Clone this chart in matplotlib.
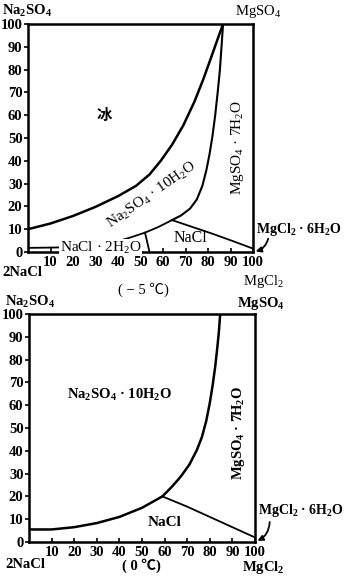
import matplotlib
matplotlib.use('Agg')
import matplotlib.pyplot as plt

plt.rcParams['font.family'] = ['Liberation Serif', 'Noto Sans CJK SC', 'DejaVu Sans']
plt.rcParams['mathtext.fontset'] = 'custom'
plt.rcParams['mathtext.rm'] = 'Liberation Serif'
plt.rcParams['mathtext.bf'] = 'Liberation Serif:bold'
plt.rcParams['mathtext.default'] = 'regular'

# -5 C diagram
ice_x = [0, 10, 20, 30, 40, 48, 54, 59, 64, 69, 74, 78, 82, 84.5, 86.7]
ice_y = [10, 12.5, 15.8, 19.8, 24.5, 29, 34, 40, 47, 55.5, 66, 76, 87, 94, 100]
hep_x_top = [64, 68, 72, 75, 77.5, 79.3, 80.7, 82, 83.2, 84.3, 85.3, 86, 86.7]
hep_y_top = [14, 16, 19, 23, 29, 36, 43, 51, 60, 70, 80, 90, 100]
dihyd_x = [37, 40, 45, 52, 58, 64]
dihyd_y = [2, 4.8, 6.2, 8.5, 11, 14]
dihyd_sep_x = [52, 54]
dihyd_sep_y = [8.5, 0]
dihyd_left_x = [0, 14]
dihyd_left_y = [1.8, 2]
nacl_x_top = [64, 73, 82, 91, 100]
nacl_y_top = [14, 11, 8, 4.8, 1.5]

# 0 C diagram
dec_x = [0, 10, 20, 30, 40, 50, 59, 63, 67, 71, 74.3, 76.5, 78.4, 80, 81.3, 82.4, 83.3, 84, 84.6]
dec_y = [5.5, 5.5, 6.5, 8.3, 11, 15, 20, 24, 28.5, 34, 40.4, 46, 53, 61, 69, 77, 85, 92, 100]
nacl_x_bot = [59, 70, 80, 90, 100]
nacl_y_bot = [20, 15.5, 11, 6.5, 2]

y_ticks = list(range(0, 101, 10))
x_ticks = list(range(10, 101, 10))

W, H = 352, 576
fig = plt.figure(figsize=(W / 100, H / 100), dpi=100)


def box(px_left, px_top, px_right, px_bottom):
    return [px_left / W, 1 - px_bottom / H, (px_right - px_left) / W, (px_bottom - px_top) / H]


def setup(ax):
    ax.set_xlim(0, 100)
    ax.set_ylim(0, 100)
    for s in ax.spines.values():
        s.set_linewidth(1.8)
    ax.set_yticks(y_ticks)
    ax.set_xticks(x_ticks)
    ax.tick_params(axis='y', direction='out', length=3, width=1.2, pad=1, labelsize=10.5)
    ax.tick_params(axis='x', direction='in', length=3, width=1.2, pad=3, labelsize=10.5)
    for lab in ax.get_yticklabels() + ax.get_xticklabels():
        lab.set_fontweight('bold')


def mgcl_label(ax, y_text, arrow_from):
    ax.text(101.5, y_text, r'MgCl$_2$ · 6H$_2$O', fontsize=10, fontweight='bold',
            ha='left', va='center', clip_on=False)
    ax.annotate('', xy=(100, 0), xytext=arrow_from,
                arrowprops=dict(arrowstyle='-|>', color='k', lw=1.3,
                                connectionstyle='arc3,rad=-0.35', mutation_scale=8),
                annotation_clip=False)


lw = 1.8

# ---- top panel (-5 C)
ax1 = fig.add_axes(box(28, 24, 253, 252))
setup(ax1)
ax1.plot(ice_x, ice_y, color='k', lw=lw)
ax1.plot(hep_x_top, hep_y_top, color='k', lw=1.5)
ax1.plot(dihyd_x, dihyd_y, color='k', lw=1.3)
ax1.plot(dihyd_sep_x, dihyd_sep_y, color='k', lw=1.3)
ax1.plot(dihyd_left_x, dihyd_left_y, color='k', lw=1.3)
ax1.plot(nacl_x_top, nacl_y_top, color='k', lw=1.3)

ax1.text(34, 60, '冰', fontsize=11, fontweight='bold', ha='center', va='center',
         family=['Noto Sans CJK SC'])
ax1.text(55, 25, r'Na$_2$SO$_4$ · 10H$_2$O', fontsize=11, rotation=35,
         ha='center', va='center')
ax1.text(93, 46, r'MgSO$_4$ · 7H$_2$O', fontsize=11, rotation=90,
         ha='center', va='center')
ax1.text(14, 1.9, r'NaCl · 2H$_2$O', fontsize=11, ha='left', va='center', zorder=5,
         bbox=dict(boxstyle='square,pad=0.05', fc='white', ec='none'))
ax1.text(72, 6, 'NaCl', fontsize=11.5, ha='center', va='center')
mgcl_label(ax1, 10, (107, 7))

fig.text(2 / W, 1 - 11 / H, r'Na$_2$SO$_4$', fontsize=10.5, fontweight='bold', va='center')
fig.text(235 / W, 1 - 11 / H, r'MgSO$_4$', fontsize=10.5, va='center')
fig.text(2 / W, 1 - 272 / H, '2NaCl', fontsize=10.5, fontweight='bold', va='center')
fig.text(263 / W, 1 - 281 / H, r'MgCl$_2$', fontsize=10.5, ha='center', va='center')
fig.text(143 / W, 1 - 290 / H, '( − 5 ℃)', fontsize=10.5, ha='center', va='center')

# ---- bottom panel (0 C)
ax2 = fig.add_axes(box(29, 314, 255, 542))
setup(ax2)
ax2.plot(dec_x, dec_y, color='k', lw=lw)
ax2.plot(nacl_x_bot, nacl_y_bot, color='k', lw=1.3)

ax2.text(40, 64.5, r'Na$_2$SO$_4$ · 10H$_2$O', fontsize=10.5, fontweight='bold',
         ha='center', va='center')
ax2.text(92.5, 48, r'MgSO$_4$ · 7H$_2$O', fontsize=10.5, fontweight='bold', rotation=90,
         ha='center', va='center')
ax2.text(60, 8.5, 'NaCl', fontsize=11, fontweight='bold', ha='center', va='center')
mgcl_label(ax2, 14, (106.5, 10))

fig.text(5 / W, 1 - 302 / H, r'Na$_2$SO$_4$', fontsize=10.5, fontweight='bold', va='center')
fig.text(237 / W, 1 - 303 / H, r'MgSO$_4$', fontsize=10.5, fontweight='bold', va='center')
fig.text(5 / W, 1 - 565 / H, '2NaCl', fontsize=10.5, fontweight='bold', va='center')
fig.text(263 / W, 1 - 568 / H, r'MgCl$_2$', fontsize=10.5, fontweight='bold', ha='center', va='center')
fig.text(141 / W, 1 - 566 / H, '( 0 ℃)', fontsize=10.5, fontweight='bold', ha='center', va='center')

fig.savefig('out.png', dpi=100)
